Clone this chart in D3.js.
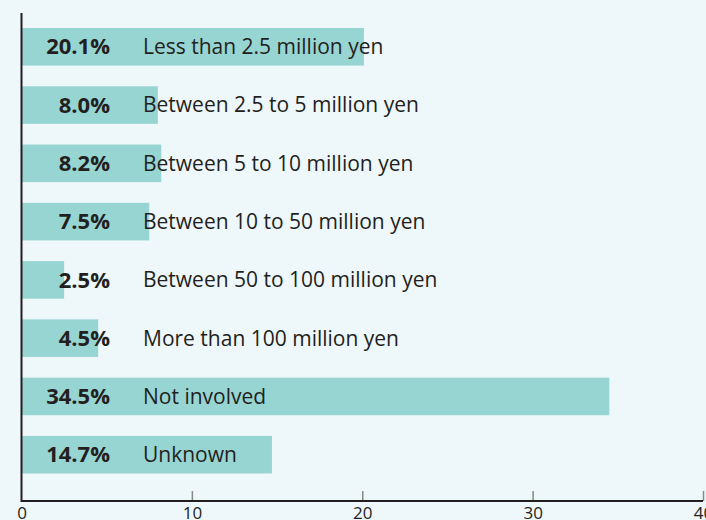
<!DOCTYPE html>
<html><head><meta charset="utf-8">
<script src="https://cdn.jsdelivr.net/npm/d3@7"></script>
<style>
html,body{margin:0;padding:0;background:#eef7f9;}
svg{display:block;}
</style></head>
<body>
<svg id="chart" width="706" height="520"></svg>
<script>
const categories = ["Less than 2.5 million yen","Between 2.5 to 5 million yen","Between 5 to 10 million yen","Between 10 to 50 million yen","Between 50 to 100 million yen","More than 100 million yen","Not involved","Unknown"];
const values = [20.1, 8.0, 8.2, 7.5, 2.5, 4.5, 34.5, 14.7];
const valueLabels = ["20.1%","8.0%","8.2%","7.5%","2.5%","4.5%","34.5%","14.7%"];
const xTicks = [0, 10, 20, 30, 40];

const svg = d3.select("#chart");
const x = d3.scaleLinear().domain([0, 40]).range([21.5, 703]);
const y = d3.scaleBand().domain(categories).range([17.5, 484]).paddingInner(0.355).paddingOuter(0.18);

svg.append("rect").attr("width",706).attr("height",520).attr("fill","#eef7f9");

svg.selectAll("rect.bar").data(values).join("rect").attr("class","bar")
  .attr("x", x(0)).attr("y", (d,i)=>y(categories[i]))
  .attr("width", d=>x(d)-x(0)).attr("height", y.bandwidth())
  .attr("fill","#97d5d2");

svg.selectAll("text.val").data(valueLabels).join("text").attr("class","val")
  .attr("x", 110).attr("y",(d,i)=>y(categories[i])+y.bandwidth()/2)
  .attr("dy","0.35em").attr("text-anchor","end")
  .attr("font-family","'Open Sans', sans-serif").attr("font-weight","bold").attr("font-size",22)
  .attr("fill","#231f20").text(d=>d);

svg.selectAll("text.cat").data(categories).join("text").attr("class","cat")
  .attr("x", 143).attr("y",d=>y(d)+y.bandwidth()/2)
  .attr("dy","0.35em")
  .attr("font-family","'Open Sans', sans-serif").attr("font-size",21)
  .attr("fill","#231f20").text(d=>d);

const axis = d3.axisBottom(x).tickValues(xTicks).tickSize(-10).tickPadding(6).tickFormat(d3.format("d"));
const gx = svg.append("g").attr("transform","translate(0,501)").call(axis);
gx.select(".domain").remove();
gx.selectAll(".tick line").attr("stroke","#888").attr("stroke-width",1.5);
gx.selectAll(".tick text").attr("font-family","'Open Sans', sans-serif").attr("font-size",17).attr("fill","#231f20");
gx.selectAll(".tick").filter(d=>d===0).select("line").remove();

svg.append("line").attr("x1",x(0)).attr("x2",x(40)).attr("y1",501).attr("y2",501)
  .attr("stroke","#231f20").attr("stroke-width",2);
svg.append("line").attr("x1",x(0)).attr("x2",x(0)).attr("y1",13).attr("y2",502)
  .attr("stroke","#231f20").attr("stroke-width",2);
</script>
</body></html>
